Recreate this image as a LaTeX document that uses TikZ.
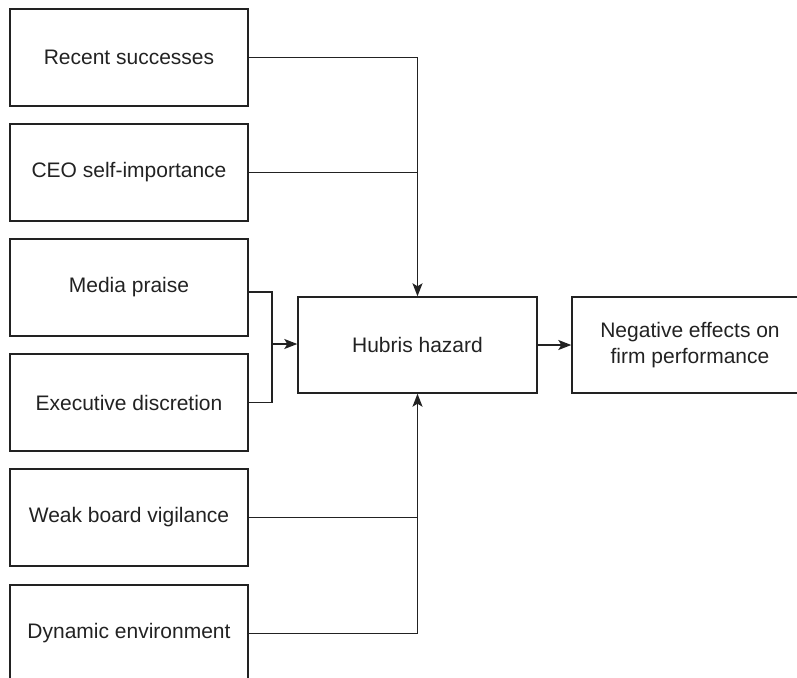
\documentclass[tikz,border=0pt]{standalone}
\usepackage{fontspec}
\setmainfont{Liberation Sans}
\usetikzlibrary{arrows.meta,calc}
\definecolor{ink}{HTML}{222222}
\begin{document}
\begin{tikzpicture}[x=1pt,y=-1pt,
  box/.style={draw=ink,line width=1.4pt,rectangle,inner sep=0pt,align=center,
    font=\fontsize{21}{25.5}\selectfont,text=ink},
  leftbox/.style={box,minimum width=238pt,minimum height=97pt},
  midbox/.style={box,minimum width=239pt,minimum height=96pt},
  conn/.style={draw=ink,line width=1.4pt},
  arr/.style={conn,-{Stealth[length=13pt,width=10pt,inset=3pt]}}]
\useasboundingbox (0,0) rectangle (797,677);
\node[leftbox] (r1) at (129,57.5) {Recent successes};
\node[leftbox] (r2) at (129,172.5) {CEO self-importance};
\node[leftbox] (r3) at (129,287.5) {Media praise};
\node[leftbox] (r4) at (129,402.5) {Executive discretion};
\node[leftbox] (r5) at (129,517.5) {Weak board vigilance};
\node[leftbox] (r6) at (129,633.5) {Dynamic environment};
\node[midbox] (hub) at (417.5,345) {Hubris hazard};
\node[box,minimum width=236pt,minimum height=96pt] (neg) at (690,345) {Negative effects on\\firm performance};
\coordinate (j) at (272,344);
\coordinate (m) at ($(r3.east)+(0,4.5)$);
\draw[arr] (r1.east) -| (hub.north);
\draw[conn] (r2.east) -- (r2.east -| hub.north);
\draw[conn] (m) -| (j);
\draw[conn] (r4.east) -| (j);
\draw[arr] (j) -- (j -| hub.west);
\draw[arr] (r6.east) -| (hub.south);
\draw[conn] (r5.east) -- (r5.east -| hub.south);
\draw[arr] (hub.east) -- (neg.west);
\end{tikzpicture}
\end{document}
